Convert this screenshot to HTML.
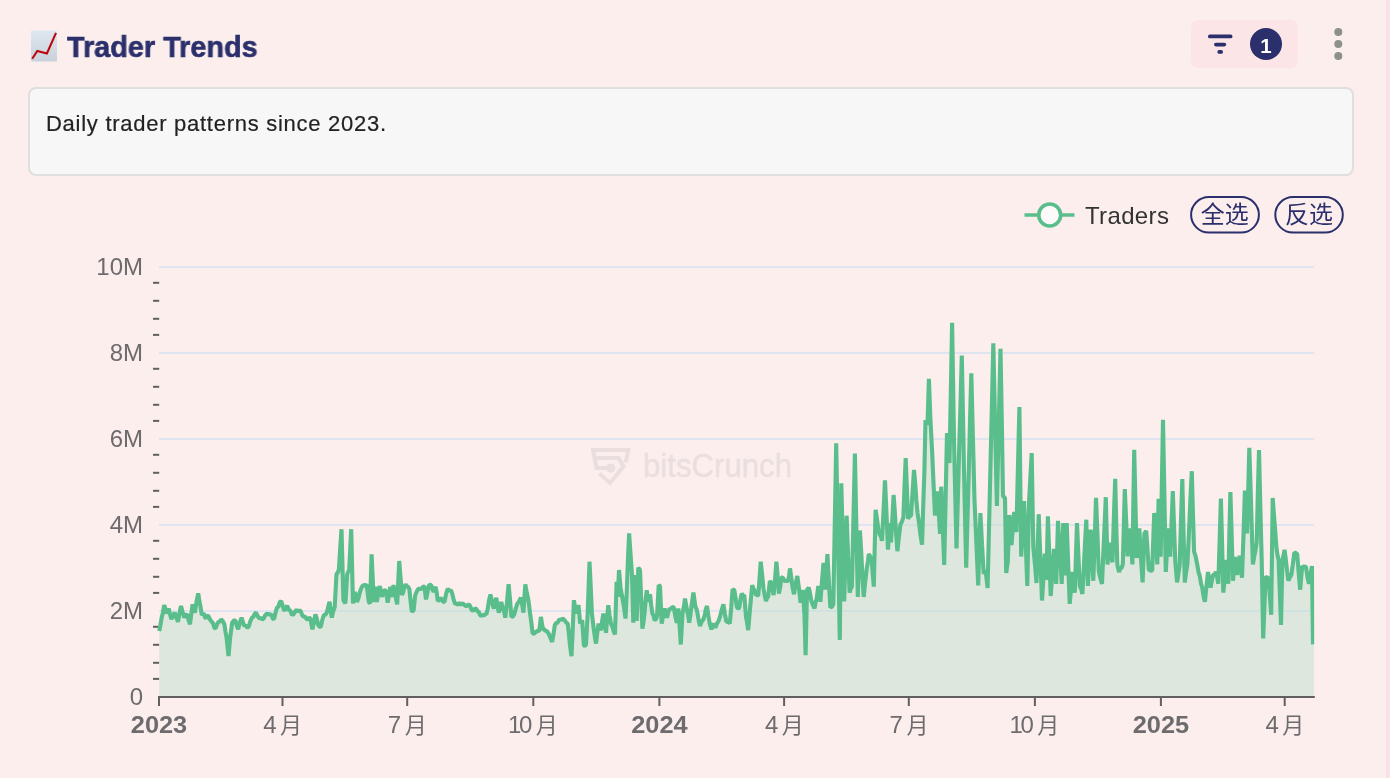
<!DOCTYPE html>
<html><head><meta charset="utf-8"><title>Trader Trends</title>
<style>
html,body{margin:0;padding:0;}
body{width:1390px;height:778px;overflow:hidden;background:#fbeeed;font-family:"Liberation Sans",sans-serif;position:relative;}
.abs{position:absolute;will-change:transform;}
#stripe{left:1385.5px;top:0;width:4.5px;height:778px;background:#f8e4e6;}
#title{left:67.3px;top:27.3px;font-size:29.5px;transform:scaleX(0.977);-webkit-text-stroke:0.6px #2b2f6b;font-weight:bold;color:#2b2f6b;line-height:40px;white-space:nowrap;transform-origin:0 50%;}
#desc{left:28px;top:86.5px;width:1322px;height:85px;border:2px solid #e1dede;border-radius:8px;background:#f7f7f7;}
#desctxt{left:46.2px;-webkit-text-stroke:0.2px #222;top:110px;font-size:22px;letter-spacing:0.73px;line-height:28px;color:#222;white-space:nowrap;transform-origin:0 50%;}
#fbtn{left:1191px;top:20px;width:107px;height:48px;border-radius:7px;background:#fbe5e6;}
#badge{left:1250px;top:28px;width:32px;height:32px;border-radius:50%;background:#2b2f6b;color:#fff;font-size:20.5px;font-weight:normal;-webkit-text-stroke:0.7px #fff;text-align:center;line-height:33px;}
svg text{font-family:"Liberation Sans","Noto Sans CJK SC",sans-serif;}
</style></head><body>
<div id="stripe" class="abs"></div>
<svg class="abs" style="left:0;top:0" width="1390" height="778" viewBox="0 0 1390 778">
<!-- emoji chart icon -->
<g id="emoji">
<defs><linearGradient id="eg" x1="0" y1="0" x2="0" y2="1"><stop offset="0" stop-color="#dfe8f0"/><stop offset="1" stop-color="#c9d2db"/></linearGradient></defs>
<rect x="31" y="30.4" width="26" height="31" rx="1" fill="url(#eg)"/>
<path d="M32.2,58.7 L37.3,50.9 L46.9,53.4 L56,32.9" fill="none" stroke="#bd080e" stroke-width="2.1" stroke-linejoin="miter"/>
</g>
<g fill="#8e908c"><circle cx="1338.3" cy="32" r="4"/><circle cx="1338.3" cy="44" r="4"/><circle cx="1338.3" cy="56" r="4"/></g>
</svg>
<div id="fbtn" class="abs"></div>
<svg class="abs" style="left:0;top:0" width="1390" height="778" viewBox="0 0 1390 778">
<g fill="#2b2f6b">
<rect x="1208" y="34.5" width="24.5" height="3.8" rx="1.9"/>
<rect x="1214" y="42.8" width="12.2" height="3.6" rx="1.8"/>
<rect x="1217.4" y="50.1" width="5.6" height="3.7" rx="1.85"/>
</g>
</svg>
<div id="badge" class="abs"></div>
<svg class="abs" style="left:0;top:0" width="1390" height="778" viewBox="0 0 1390 778"><text x="1266" y="52.7" text-anchor="middle" font-size="20.5" font-weight="bold" fill="#fff">1</text></svg>
<div id="title" class="abs">Trader Trends</div>
<div id="desc" class="abs"></div>
<div id="desctxt" class="abs">Daily trader patterns since 2023.</div>
<svg class="abs" style="left:0;top:0" width="1390" height="778" viewBox="0 0 1390 778">
<line x1="159" x2="1314" y1="611.0" y2="611.0" stroke="#dfe5f0" stroke-width="2"/>
<line x1="159" x2="1314" y1="525.0" y2="525.0" stroke="#dfe5f0" stroke-width="2"/>
<line x1="159" x2="1314" y1="439.0" y2="439.0" stroke="#dfe5f0" stroke-width="2"/>
<line x1="159" x2="1314" y1="353.0" y2="353.0" stroke="#dfe5f0" stroke-width="2"/>
<line x1="159" x2="1314" y1="267.0" y2="267.0" stroke="#dfe5f0" stroke-width="2"/>
<line x1="153" x2="159.2" y1="282.8" y2="282.8" stroke="#625f61" stroke-width="2"/>
<line x1="153" x2="159.2" y1="300.8" y2="300.8" stroke="#625f61" stroke-width="2"/>
<line x1="153" x2="159.2" y1="318.8" y2="318.8" stroke="#625f61" stroke-width="2"/>
<line x1="153" x2="159.2" y1="334.9" y2="334.9" stroke="#625f61" stroke-width="2"/>
<line x1="153" x2="159.2" y1="368.8" y2="368.8" stroke="#625f61" stroke-width="2"/>
<line x1="153" x2="159.2" y1="386.8" y2="386.8" stroke="#625f61" stroke-width="2"/>
<line x1="153" x2="159.2" y1="404.8" y2="404.8" stroke="#625f61" stroke-width="2"/>
<line x1="153" x2="159.2" y1="420.9" y2="420.9" stroke="#625f61" stroke-width="2"/>
<line x1="153" x2="159.2" y1="454.8" y2="454.8" stroke="#625f61" stroke-width="2"/>
<line x1="153" x2="159.2" y1="472.8" y2="472.8" stroke="#625f61" stroke-width="2"/>
<line x1="153" x2="159.2" y1="490.8" y2="490.8" stroke="#625f61" stroke-width="2"/>
<line x1="153" x2="159.2" y1="506.9" y2="506.9" stroke="#625f61" stroke-width="2"/>
<line x1="153" x2="159.2" y1="540.8" y2="540.8" stroke="#625f61" stroke-width="2"/>
<line x1="153" x2="159.2" y1="558.8" y2="558.8" stroke="#625f61" stroke-width="2"/>
<line x1="153" x2="159.2" y1="576.8" y2="576.8" stroke="#625f61" stroke-width="2"/>
<line x1="153" x2="159.2" y1="592.9" y2="592.9" stroke="#625f61" stroke-width="2"/>
<line x1="153" x2="159.2" y1="626.8" y2="626.8" stroke="#625f61" stroke-width="2"/>
<line x1="153" x2="159.2" y1="644.8" y2="644.8" stroke="#625f61" stroke-width="2"/>
<line x1="153" x2="159.2" y1="662.8" y2="662.8" stroke="#625f61" stroke-width="2"/>
<line x1="153" x2="159.2" y1="678.9" y2="678.9" stroke="#625f61" stroke-width="2"/>
<defs><clipPath id="pc"><rect x="157" y="250" width="1157.2" height="450"/></clipPath></defs>
<path d="M159.2,631.0 L160.4,625.3 L161.7,617.4 L162.9,612.7 L164.2,605.1 L165.4,608.7 L166.7,613.4 L168.7,608.4 L170.1,614.8 L171.4,619.3 L173.1,615.1 L174.7,612.6 L176.3,617.8 L178.0,621.8 L179.5,612.9 L181.0,606.0 L182.7,612.3 L184.3,617.6 L185.7,615.1 L187.0,614.3 L188.5,619.9 L190.0,624.3 L191.3,613.7 L192.6,604.3 L193.7,609.3 L194.8,612.6 L196.5,601.8 L198.2,593.4 L199.4,601.2 L200.6,607.1 L201.8,615.0 L203.8,613.4 L204.9,617.0 L206.0,618.5 L207.2,615.9 L208.5,616.0 L210.2,619.9 L211.8,621.8 L213.0,623.2 L214.3,627.6 L215.5,628.5 L217.0,624.6 L218.5,621.8 L219.8,621.8 L221.0,619.3 L222.7,621.0 L224.4,624.3 L225.4,631.3 L226.5,637.0 L228.5,656.0 L230.2,637.0 L232.2,622.6 L233.7,620.7 L235.2,620.0 L236.7,625.4 L238.2,629.3 L239.9,622.2 L241.6,617.6 L243.0,622.5 L244.4,626.0 L245.8,625.2 L247.2,627.6 L248.6,626.8 L250.3,621.4 L252.0,617.6 L253.3,616.9 L254.7,613.7 L256.0,612.6 L257.7,616.1 L259.4,618.5 L260.8,617.8 L262.2,619.6 L263.6,618.5 L265.3,615.1 L267.0,613.4 L268.6,614.6 L270.3,614.3 L271.5,614.9 L272.8,618.5 L274.0,619.3 L275.5,612.7 L277.0,607.6 L278.4,606.6 L279.8,602.1 L281.2,601.0 L282.9,606.7 L284.5,611.0 L285.9,607.5 L287.3,606.0 L288.9,610.0 L290.4,610.7 L292.0,615.0 L293.7,614.1 L295.4,611.0 L296.8,609.9 L298.1,611.7 L299.5,610.0 L300.9,611.6 L302.3,615.4 L303.7,616.8 L305.1,616.5 L306.5,619.1 L307.9,619.3 L309.1,618.0 L310.4,618.5 L312.4,629.3 L313.9,622.4 L315.4,614.3 L316.7,618.2 L318.0,624.3 L319.4,626.7 L320.8,626.8 L322.3,619.9 L323.8,615.1 L325.5,614.7 L327.1,611.8 L328.4,606.0 L329.6,601.7 L330.7,610.8 L331.8,617.6 L333.2,611.3 L334.7,607.0 L336.5,574.0 L337.7,572.8 L338.9,569.5 L340.2,548.4 L341.5,529.2 L343.4,600.0 L345.4,603.5 L347.2,574.0 L349.2,569.5 L351.2,529.2 L353.0,603.5 L355.0,591.8 L357.0,601.9 L358.5,598.1 L360.0,591.8 L361.7,587.1 L363.4,585.0 L364.9,585.6 L366.4,584.3 L367.6,592.0 L368.8,601.9 L370.1,603.5 L371.6,554.3 L372.7,578.7 L373.8,601.9 L375.5,586.8 L376.8,601.9 L378.4,592.8 L379.9,586.0 L381.0,592.5 L382.2,596.9 L383.2,592.1 L384.3,590.0 L386.0,591.0 L387.7,602.7 L388.9,596.0 L390.2,586.8 L391.8,596.9 L393.5,585.0 L395.5,596.0 L397.2,604.4 L399.2,561.0 L400.5,577.2 L401.9,595.0 L403.1,592.3 L404.4,586.8 L405.6,584.3 L406.9,586.5 L408.1,586.7 L409.4,589.3 L410.6,601.3 L411.9,611.9 L413.6,610.2 L415.2,595.2 L416.9,591.2 L418.6,588.5 L420.2,589.1 L421.9,588.5 L423.1,586.5 L424.4,586.8 L426.0,599.4 L427.3,593.3 L428.6,586.0 L429.9,584.8 L431.1,585.0 L432.4,589.3 L433.6,591.8 L435.6,586.8 L436.7,592.6 L437.8,601.0 L439.1,600.3 L440.3,598.5 L441.7,598.7 L443.1,601.8 L444.5,601.9 L446.1,593.9 L447.8,588.5 L449.2,591.1 L450.6,590.0 L452.0,592.7 L453.6,599.3 L455.3,604.4 L456.6,603.3 L458.0,604.9 L459.3,602.6 L460.7,605.0 L462.0,603.5 L463.7,604.1 L465.4,606.0 L467.0,605.9 L468.7,604.4 L470.1,605.9 L471.5,609.5 L472.9,611.0 L474.5,608.9 L476.2,608.6 L477.4,611.5 L478.7,611.6 L479.9,614.7 L481.2,616.0 L482.5,614.7 L483.8,616.0 L485.0,613.8 L486.3,614.4 L487.7,609.1 L489.1,600.0 L490.5,594.4 L492.1,602.5 L493.8,608.6 L495.1,602.1 L496.3,597.7 L497.6,606.3 L498.8,612.7 L500.1,606.7 L501.3,601.9 L502.6,608.5 L504.0,611.2 L505.3,617.7 L507.0,602.3 L508.6,584.3 L510.0,599.4 L511.4,616.9 L512.8,616.5 L514.2,614.4 L515.9,608.1 L517.5,603.5 L519.2,601.2 L520.9,597.7 L522.1,604.1 L523.4,612.7 L525.3,584.3 L526.8,592.8 L528.4,600.2 L530.1,613.5 L531.4,623.0 L532.6,633.6 L534.2,633.4 L535.9,631.9 L537.6,630.8 L539.3,631.0 L540.9,616.9 L542.0,624.0 L543.1,629.4 L544.3,629.4 L545.6,631.0 L546.8,631.0 L548.5,633.4 L550.1,637.0 L552.1,641.9 L553.5,634.2 L554.8,625.2 L556.0,623.0 L557.3,622.9 L558.5,621.0 L559.7,618.9 L561.0,620.4 L562.2,618.6 L563.7,619.2 L565.2,621.0 L566.5,623.0 L567.7,623.6 L568.8,632.8 L569.8,643.6 L571.5,656.1 L572.7,630.0 L573.9,600.2 L575.0,607.7 L576.0,613.5 L577.2,608.7 L578.5,605.2 L580.2,623.6 L582.2,620.2 L583.9,645.3 L585.0,646.1 L586.0,644.5 L587.7,613.5 L589.5,561.7 L590.7,586.2 L591.9,613.5 L593.9,630.2 L595.0,637.8 L596.0,643.6 L597.3,632.7 L598.6,623.6 L599.8,627.5 L601.0,630.2 L602.1,621.2 L603.3,613.5 L604.6,624.0 L606.0,632.8 L607.1,618.3 L608.3,605.2 L609.6,615.6 L611.0,623.6 L612.3,626.5 L613.7,631.3 L615.0,634.4 L616.6,581.8 L617.8,596.8 L619.0,570.0 L620.6,588.5 L622.5,598.5 L624.0,607.2 L625.5,618.6 L626.8,591.1 L627.9,561.1 L629.1,533.3 L630.6,555.1 L632.0,575.0 L633.3,622.7 L635.3,575.0 L636.7,621.0 L638.3,567.6 L640.0,570.0 L641.2,598.8 L642.4,628.6 L643.5,622.0 L644.5,613.5 L645.6,600.5 L646.7,590.2 L648.4,601.8 L650.0,594.3 L651.2,605.2 L652.4,613.5 L653.5,615.7 L654.6,620.2 L655.8,619.3 L657.0,616.9 L658.7,585.1 L660.0,586.0 L661.7,623.6 L663.2,615.2 L664.6,608.5 L665.8,613.8 L667.0,617.7 L668.3,611.9 L669.6,608.5 L671.0,609.2 L672.4,606.8 L673.8,607.7 L675.3,616.0 L676.8,622.7 L678.4,608.5 L679.6,625.8 L680.8,644.5 L682.5,613.5 L683.8,607.2 L685.0,598.5 L687.0,610.2 L688.1,615.1 L689.2,622.7 L690.3,616.0 L691.4,606.8 L693.4,592.6 L695.4,606.8 L696.5,608.9 L697.5,613.5 L698.8,621.0 L700.0,626.0 L701.7,621.5 L703.4,619.4 L704.6,615.6 L705.8,609.5 L707.0,606.0 L708.4,615.6 L709.7,623.5 L711.4,629.4 L713.4,623.5 L715.4,627.7 L716.9,623.6 L718.5,621.0 L720.0,616.9 L721.7,609.8 L723.4,604.3 L724.9,613.8 L726.4,621.9 L728.1,621.6 L729.8,623.5 L731.2,607.7 L732.6,589.3 L734.3,590.1 L735.5,597.5 L736.8,606.8 L738.0,608.6 L739.3,607.7 L740.5,599.2 L741.8,593.5 L743.0,595.6 L744.3,595.1 L746.0,616.9 L747.1,622.7 L748.2,630.2 L750.2,606.8 L752.2,585.1 L753.3,588.3 L754.4,590.1 L756.0,595.1 L757.1,594.8 L758.2,596.0 L759.5,579.5 L760.7,561.7 L762.1,574.4 L763.5,588.5 L764.8,595.8 L766.0,601.0 L767.1,597.6 L768.2,596.8 L769.9,581.0 L771.6,583.4 L773.6,595.1 L775.0,579.6 L776.4,561.7 L777.7,576.7 L778.9,593.5 L780.2,586.6 L781.5,577.6 L782.8,577.5 L784.0,580.5 L785.3,581.0 L786.8,580.3 L788.3,581.8 L790.0,568.4 L791.6,580.1 L792.8,588.5 L794.0,594.3 L795.6,584.0 L797.3,576.0 L799.0,588.5 L800.6,602.7 L801.7,597.5 L802.8,590.0 L804.5,615.2 L805.6,655.3 L807.0,590.0 L808.7,587.6 L810.0,593.0 L811.2,600.2 L812.9,605.0 L814.5,608.5 L815.6,602.3 L816.7,598.5 L818.3,586.0 L819.3,594.7 L820.4,601.8 L822.0,581.2 L823.5,563.0 L825.3,589.6 L826.3,573.2 L827.4,554.0 L828.8,579.8 L830.3,607.4 L831.8,606.8 L833.3,604.4 L834.8,522.5 L836.2,443.3 L837.4,510.0 L838.6,573.7 L839.8,639.9 L841.3,483.2 L842.8,542.9 L844.2,601.4 L845.4,557.9 L846.6,515.7 L848.1,555.4 L849.6,592.6 L850.8,588.4 L851.9,586.7 L853.4,520.8 L854.9,453.6 L856.3,524.1 L857.8,597.0 L858.8,565.1 L859.9,530.5 L861.2,551.6 L862.4,575.7 L863.7,597.0 L865.2,582.0 L866.7,569.0 L867.8,562.1 L868.8,554.0 L870.2,556.5 L871.7,560.0 L872.8,574.7 L873.8,586.7 L875.6,509.8 L877.0,519.1 L878.5,530.5 L879.7,534.9 L880.8,536.0 L882.0,540.8 L883.5,511.4 L885.0,480.3 L886.5,513.7 L888.0,549.7 L889.6,523.0 L891.0,542.5 L892.3,520.0 L893.6,495.0 L894.9,513.0 L896.1,533.2 L897.4,551.2 L898.9,537.1 L900.4,524.6 L901.9,521.6 L903.4,517.2 L904.5,486.6 L905.7,458.0 L906.9,489.1 L908.0,518.7 L909.5,516.3 L911.0,515.7 L912.5,493.5 L914.0,470.0 L915.2,483.0 L916.3,499.4 L917.5,512.8 L919.0,522.5 L920.5,535.0 L922.0,544.6 L923.2,506.5 L924.4,471.0 L925.5,420.0 L927.5,425.0 L928.9,378.9 L930.4,419.0 L932.2,453.0 L933.6,485.2 L935.0,515.6 L936.4,502.1 L937.8,491.3 L938.9,513.6 L940.0,534.0 L941.2,486.7 L942.7,524.9 L944.2,565.0 L945.6,500.0 L947.0,433.0 L948.2,447.5 L949.5,463.0 L950.8,393.7 L952.1,322.7 L954.0,440.0 L955.2,493.6 L956.5,548.5 L957.8,500.8 L959.1,450.8 L960.5,404.5 L961.8,355.6 L962.9,411.9 L964.0,470.0 L965.1,519.9 L966.2,567.6 L967.5,518.0 L968.8,471.2 L970.0,420.9 L971.3,373.3 L972.9,437.6 L974.5,500.0 L975.7,527.3 L977.0,557.6 L978.2,585.5 L979.3,548.2 L980.4,513.0 L982.0,544.2 L983.7,574.0 L985.5,570.0 L986.5,578.2 L987.6,588.0 L989.0,528.0 L990.5,464.7 L991.9,405.5 L993.3,343.3 L994.5,396.4 L995.7,453.1 L996.9,506.0 L998.1,452.7 L999.3,402.2 L1000.5,348.7 L1001.8,421.4 L1003.0,496.0 L1005.0,498.0 L1006.2,573.0 L1007.8,562.0 L1009.4,515.0 L1010.5,531.0 L1011.5,545.0 L1012.9,527.4 L1014.2,512.0 L1015.3,522.9 L1016.4,532.0 L1017.9,468.5 L1019.4,407.0 L1021.2,556.6 L1022.6,529.7 L1024.0,501.0 L1025.7,542.2 L1027.3,586.0 L1029.0,502.0 L1030.3,478.6 L1031.7,453.0 L1033.3,547.0 L1034.9,563.7 L1036.5,583.0 L1037.6,549.9 L1038.7,514.2 L1040.3,556.6 L1042.0,600.5 L1043.4,578.0 L1044.8,553.5 L1046.4,580.0 L1047.9,516.4 L1049.3,554.9 L1050.7,596.0 L1052.3,573.7 L1054.0,549.0 L1055.1,565.9 L1056.2,584.0 L1058.0,520.8 L1059.2,542.5 L1060.5,562.0 L1061.7,584.0 L1063.2,523.0 L1064.9,575.4 L1066.7,523.0 L1068.2,564.0 L1069.7,603.8 L1071.2,587.2 L1072.6,572.0 L1073.7,583.0 L1074.8,592.8 L1075.9,556.8 L1077.0,523.0 L1078.4,555.7 L1079.8,586.0 L1081.1,588.7 L1082.4,594.0 L1083.7,569.9 L1085.0,543.3 L1086.3,519.7 L1087.9,586.0 L1089.3,558.8 L1090.7,529.5 L1092.0,554.5 L1093.3,580.8 L1094.7,540.6 L1096.0,497.9 L1097.4,533.1 L1098.8,571.0 L1100.4,578.2 L1102.0,584.0 L1103.3,553.7 L1104.5,527.0 L1105.8,497.2 L1107.5,564.5 L1108.6,552.6 L1109.7,542.6 L1111.1,553.8 L1112.5,562.3 L1113.8,519.4 L1115.2,478.9 L1116.2,522.4 L1117.3,564.5 L1119.0,572.0 L1120.3,568.6 L1121.5,568.0 L1122.8,564.5 L1124.8,489.0 L1126.2,521.8 L1127.5,556.3 L1128.8,543.1 L1130.2,528.5 L1131.3,545.7 L1132.4,564.4 L1134.2,449.9 L1135.5,505.1 L1136.7,558.0 L1138.0,542.7 L1139.3,528.4 L1140.9,556.4 L1142.6,582.4 L1144.4,533.5 L1146.2,531.0 L1147.5,549.4 L1148.8,569.5 L1150.5,570.7 L1152.2,570.8 L1154.2,513.0 L1155.8,537.9 L1157.3,564.4 L1158.6,498.8 L1159.7,528.8 L1160.7,556.7 L1161.8,487.3 L1163.0,419.8 L1164.4,496.5 L1165.8,572.0 L1167.1,548.8 L1168.4,528.4 L1170.2,556.7 L1171.5,525.0 L1172.8,491.0 L1174.0,525.0 L1175.3,561.8 L1177.1,582.4 L1178.4,574.0 L1179.7,564.4 L1181.0,521.0 L1182.3,479.0 L1183.5,531.3 L1184.8,582.4 L1186.1,572.2 L1187.4,564.4 L1188.9,534.1 L1190.3,501.6 L1191.8,471.2 L1192.9,512.2 L1194.1,551.5 L1195.7,556.6 L1197.2,564.4 L1198.5,571.8 L1199.8,576.1 L1201.1,583.7 L1202.3,588.0 L1203.6,596.5 L1204.9,601.7 L1206.5,585.7 L1208.0,572.0 L1209.3,580.4 L1210.6,587.6 L1211.8,580.7 L1213.0,575.0 L1214.5,574.6 L1215.9,572.0 L1217.1,577.0 L1218.3,583.8 L1219.6,541.8 L1220.9,498.6 L1222.1,544.3 L1223.3,592.6 L1224.8,577.4 L1226.3,560.0 L1228.3,583.8 L1229.3,536.7 L1230.4,492.0 L1231.7,537.0 L1233.0,580.8 L1235.0,557.0 L1236.1,564.7 L1237.2,575.0 L1238.4,565.9 L1239.6,555.7 L1240.8,565.5 L1242.0,577.8 L1243.5,535.1 L1244.9,490.6 L1246.0,511.2 L1247.0,533.5 L1248.2,491.6 L1249.3,447.7 L1250.5,485.3 L1251.7,526.3 L1252.9,564.5 L1254.2,556.5 L1255.4,550.7 L1256.7,542.4 L1257.8,495.5 L1259.0,450.0 L1260.3,505.6 L1261.7,560.0 L1263.2,638.5 L1264.4,606.8 L1265.6,576.4 L1267.0,577.7 L1268.5,577.8 L1269.8,595.6 L1271.2,614.8 L1272.7,498.0 L1274.0,515.6 L1275.2,530.8 L1276.5,548.3 L1277.5,555.3 L1278.6,560.0 L1279.8,591.7 L1281.0,625.0 L1282.4,560.0 L1283.5,555.8 L1284.5,549.8 L1285.8,559.5 L1287.1,571.3 L1288.4,580.8 L1289.8,577.4 L1291.3,575.0 L1292.8,564.6 L1294.3,552.7 L1295.8,552.9 L1297.2,554.2 L1298.7,573.1 L1300.2,589.7 L1301.2,576.9 L1302.3,566.0 L1303.6,567.2 L1304.8,566.1 L1306.1,567.5 L1307.5,577.0 L1309.0,583.8 L1310.5,574.3 L1312.0,566.0 L1313.0,644.4 L1314.2,644.4 L1314.2,697.0 L159.2,697.0 Z" fill="rgb(193,224,205)" fill-opacity="0.5" clip-path="url(#pc)"/>
<path d="M159.2,631.0 L160.4,625.3 L161.7,617.4 L162.9,612.7 L164.2,605.1 L165.4,608.7 L166.7,613.4 L168.7,608.4 L170.1,614.8 L171.4,619.3 L173.1,615.1 L174.7,612.6 L176.3,617.8 L178.0,621.8 L179.5,612.9 L181.0,606.0 L182.7,612.3 L184.3,617.6 L185.7,615.1 L187.0,614.3 L188.5,619.9 L190.0,624.3 L191.3,613.7 L192.6,604.3 L193.7,609.3 L194.8,612.6 L196.5,601.8 L198.2,593.4 L199.4,601.2 L200.6,607.1 L201.8,615.0 L203.8,613.4 L204.9,617.0 L206.0,618.5 L207.2,615.9 L208.5,616.0 L210.2,619.9 L211.8,621.8 L213.0,623.2 L214.3,627.6 L215.5,628.5 L217.0,624.6 L218.5,621.8 L219.8,621.8 L221.0,619.3 L222.7,621.0 L224.4,624.3 L225.4,631.3 L226.5,637.0 L228.5,656.0 L230.2,637.0 L232.2,622.6 L233.7,620.7 L235.2,620.0 L236.7,625.4 L238.2,629.3 L239.9,622.2 L241.6,617.6 L243.0,622.5 L244.4,626.0 L245.8,625.2 L247.2,627.6 L248.6,626.8 L250.3,621.4 L252.0,617.6 L253.3,616.9 L254.7,613.7 L256.0,612.6 L257.7,616.1 L259.4,618.5 L260.8,617.8 L262.2,619.6 L263.6,618.5 L265.3,615.1 L267.0,613.4 L268.6,614.6 L270.3,614.3 L271.5,614.9 L272.8,618.5 L274.0,619.3 L275.5,612.7 L277.0,607.6 L278.4,606.6 L279.8,602.1 L281.2,601.0 L282.9,606.7 L284.5,611.0 L285.9,607.5 L287.3,606.0 L288.9,610.0 L290.4,610.7 L292.0,615.0 L293.7,614.1 L295.4,611.0 L296.8,609.9 L298.1,611.7 L299.5,610.0 L300.9,611.6 L302.3,615.4 L303.7,616.8 L305.1,616.5 L306.5,619.1 L307.9,619.3 L309.1,618.0 L310.4,618.5 L312.4,629.3 L313.9,622.4 L315.4,614.3 L316.7,618.2 L318.0,624.3 L319.4,626.7 L320.8,626.8 L322.3,619.9 L323.8,615.1 L325.5,614.7 L327.1,611.8 L328.4,606.0 L329.6,601.7 L330.7,610.8 L331.8,617.6 L333.2,611.3 L334.7,607.0 L336.5,574.0 L337.7,572.8 L338.9,569.5 L340.2,548.4 L341.5,529.2 L343.4,600.0 L345.4,603.5 L347.2,574.0 L349.2,569.5 L351.2,529.2 L353.0,603.5 L355.0,591.8 L357.0,601.9 L358.5,598.1 L360.0,591.8 L361.7,587.1 L363.4,585.0 L364.9,585.6 L366.4,584.3 L367.6,592.0 L368.8,601.9 L370.1,603.5 L371.6,554.3 L372.7,578.7 L373.8,601.9 L375.5,586.8 L376.8,601.9 L378.4,592.8 L379.9,586.0 L381.0,592.5 L382.2,596.9 L383.2,592.1 L384.3,590.0 L386.0,591.0 L387.7,602.7 L388.9,596.0 L390.2,586.8 L391.8,596.9 L393.5,585.0 L395.5,596.0 L397.2,604.4 L399.2,561.0 L400.5,577.2 L401.9,595.0 L403.1,592.3 L404.4,586.8 L405.6,584.3 L406.9,586.5 L408.1,586.7 L409.4,589.3 L410.6,601.3 L411.9,611.9 L413.6,610.2 L415.2,595.2 L416.9,591.2 L418.6,588.5 L420.2,589.1 L421.9,588.5 L423.1,586.5 L424.4,586.8 L426.0,599.4 L427.3,593.3 L428.6,586.0 L429.9,584.8 L431.1,585.0 L432.4,589.3 L433.6,591.8 L435.6,586.8 L436.7,592.6 L437.8,601.0 L439.1,600.3 L440.3,598.5 L441.7,598.7 L443.1,601.8 L444.5,601.9 L446.1,593.9 L447.8,588.5 L449.2,591.1 L450.6,590.0 L452.0,592.7 L453.6,599.3 L455.3,604.4 L456.6,603.3 L458.0,604.9 L459.3,602.6 L460.7,605.0 L462.0,603.5 L463.7,604.1 L465.4,606.0 L467.0,605.9 L468.7,604.4 L470.1,605.9 L471.5,609.5 L472.9,611.0 L474.5,608.9 L476.2,608.6 L477.4,611.5 L478.7,611.6 L479.9,614.7 L481.2,616.0 L482.5,614.7 L483.8,616.0 L485.0,613.8 L486.3,614.4 L487.7,609.1 L489.1,600.0 L490.5,594.4 L492.1,602.5 L493.8,608.6 L495.1,602.1 L496.3,597.7 L497.6,606.3 L498.8,612.7 L500.1,606.7 L501.3,601.9 L502.6,608.5 L504.0,611.2 L505.3,617.7 L507.0,602.3 L508.6,584.3 L510.0,599.4 L511.4,616.9 L512.8,616.5 L514.2,614.4 L515.9,608.1 L517.5,603.5 L519.2,601.2 L520.9,597.7 L522.1,604.1 L523.4,612.7 L525.3,584.3 L526.8,592.8 L528.4,600.2 L530.1,613.5 L531.4,623.0 L532.6,633.6 L534.2,633.4 L535.9,631.9 L537.6,630.8 L539.3,631.0 L540.9,616.9 L542.0,624.0 L543.1,629.4 L544.3,629.4 L545.6,631.0 L546.8,631.0 L548.5,633.4 L550.1,637.0 L552.1,641.9 L553.5,634.2 L554.8,625.2 L556.0,623.0 L557.3,622.9 L558.5,621.0 L559.7,618.9 L561.0,620.4 L562.2,618.6 L563.7,619.2 L565.2,621.0 L566.5,623.0 L567.7,623.6 L568.8,632.8 L569.8,643.6 L571.5,656.1 L572.7,630.0 L573.9,600.2 L575.0,607.7 L576.0,613.5 L577.2,608.7 L578.5,605.2 L580.2,623.6 L582.2,620.2 L583.9,645.3 L585.0,646.1 L586.0,644.5 L587.7,613.5 L589.5,561.7 L590.7,586.2 L591.9,613.5 L593.9,630.2 L595.0,637.8 L596.0,643.6 L597.3,632.7 L598.6,623.6 L599.8,627.5 L601.0,630.2 L602.1,621.2 L603.3,613.5 L604.6,624.0 L606.0,632.8 L607.1,618.3 L608.3,605.2 L609.6,615.6 L611.0,623.6 L612.3,626.5 L613.7,631.3 L615.0,634.4 L616.6,581.8 L617.8,596.8 L619.0,570.0 L620.6,588.5 L622.5,598.5 L624.0,607.2 L625.5,618.6 L626.8,591.1 L627.9,561.1 L629.1,533.3 L630.6,555.1 L632.0,575.0 L633.3,622.7 L635.3,575.0 L636.7,621.0 L638.3,567.6 L640.0,570.0 L641.2,598.8 L642.4,628.6 L643.5,622.0 L644.5,613.5 L645.6,600.5 L646.7,590.2 L648.4,601.8 L650.0,594.3 L651.2,605.2 L652.4,613.5 L653.5,615.7 L654.6,620.2 L655.8,619.3 L657.0,616.9 L658.7,585.1 L660.0,586.0 L661.7,623.6 L663.2,615.2 L664.6,608.5 L665.8,613.8 L667.0,617.7 L668.3,611.9 L669.6,608.5 L671.0,609.2 L672.4,606.8 L673.8,607.7 L675.3,616.0 L676.8,622.7 L678.4,608.5 L679.6,625.8 L680.8,644.5 L682.5,613.5 L683.8,607.2 L685.0,598.5 L687.0,610.2 L688.1,615.1 L689.2,622.7 L690.3,616.0 L691.4,606.8 L693.4,592.6 L695.4,606.8 L696.5,608.9 L697.5,613.5 L698.8,621.0 L700.0,626.0 L701.7,621.5 L703.4,619.4 L704.6,615.6 L705.8,609.5 L707.0,606.0 L708.4,615.6 L709.7,623.5 L711.4,629.4 L713.4,623.5 L715.4,627.7 L716.9,623.6 L718.5,621.0 L720.0,616.9 L721.7,609.8 L723.4,604.3 L724.9,613.8 L726.4,621.9 L728.1,621.6 L729.8,623.5 L731.2,607.7 L732.6,589.3 L734.3,590.1 L735.5,597.5 L736.8,606.8 L738.0,608.6 L739.3,607.7 L740.5,599.2 L741.8,593.5 L743.0,595.6 L744.3,595.1 L746.0,616.9 L747.1,622.7 L748.2,630.2 L750.2,606.8 L752.2,585.1 L753.3,588.3 L754.4,590.1 L756.0,595.1 L757.1,594.8 L758.2,596.0 L759.5,579.5 L760.7,561.7 L762.1,574.4 L763.5,588.5 L764.8,595.8 L766.0,601.0 L767.1,597.6 L768.2,596.8 L769.9,581.0 L771.6,583.4 L773.6,595.1 L775.0,579.6 L776.4,561.7 L777.7,576.7 L778.9,593.5 L780.2,586.6 L781.5,577.6 L782.8,577.5 L784.0,580.5 L785.3,581.0 L786.8,580.3 L788.3,581.8 L790.0,568.4 L791.6,580.1 L792.8,588.5 L794.0,594.3 L795.6,584.0 L797.3,576.0 L799.0,588.5 L800.6,602.7 L801.7,597.5 L802.8,590.0 L804.5,615.2 L805.6,655.3 L807.0,590.0 L808.7,587.6 L810.0,593.0 L811.2,600.2 L812.9,605.0 L814.5,608.5 L815.6,602.3 L816.7,598.5 L818.3,586.0 L819.3,594.7 L820.4,601.8 L822.0,581.2 L823.5,563.0 L825.3,589.6 L826.3,573.2 L827.4,554.0 L828.8,579.8 L830.3,607.4 L831.8,606.8 L833.3,604.4 L834.8,522.5 L836.2,443.3 L837.4,510.0 L838.6,573.7 L839.8,639.9 L841.3,483.2 L842.8,542.9 L844.2,601.4 L845.4,557.9 L846.6,515.7 L848.1,555.4 L849.6,592.6 L850.8,588.4 L851.9,586.7 L853.4,520.8 L854.9,453.6 L856.3,524.1 L857.8,597.0 L858.8,565.1 L859.9,530.5 L861.2,551.6 L862.4,575.7 L863.7,597.0 L865.2,582.0 L866.7,569.0 L867.8,562.1 L868.8,554.0 L870.2,556.5 L871.7,560.0 L872.8,574.7 L873.8,586.7 L875.6,509.8 L877.0,519.1 L878.5,530.5 L879.7,534.9 L880.8,536.0 L882.0,540.8 L883.5,511.4 L885.0,480.3 L886.5,513.7 L888.0,549.7 L889.6,523.0 L891.0,542.5 L892.3,520.0 L893.6,495.0 L894.9,513.0 L896.1,533.2 L897.4,551.2 L898.9,537.1 L900.4,524.6 L901.9,521.6 L903.4,517.2 L904.5,486.6 L905.7,458.0 L906.9,489.1 L908.0,518.7 L909.5,516.3 L911.0,515.7 L912.5,493.5 L914.0,470.0 L915.2,483.0 L916.3,499.4 L917.5,512.8 L919.0,522.5 L920.5,535.0 L922.0,544.6 L923.2,506.5 L924.4,471.0 L925.5,420.0 L927.5,425.0 L928.9,378.9 L930.4,419.0 L932.2,453.0 L933.6,485.2 L935.0,515.6 L936.4,502.1 L937.8,491.3 L938.9,513.6 L940.0,534.0 L941.2,486.7 L942.7,524.9 L944.2,565.0 L945.6,500.0 L947.0,433.0 L948.2,447.5 L949.5,463.0 L950.8,393.7 L952.1,322.7 L954.0,440.0 L955.2,493.6 L956.5,548.5 L957.8,500.8 L959.1,450.8 L960.5,404.5 L961.8,355.6 L962.9,411.9 L964.0,470.0 L965.1,519.9 L966.2,567.6 L967.5,518.0 L968.8,471.2 L970.0,420.9 L971.3,373.3 L972.9,437.6 L974.5,500.0 L975.7,527.3 L977.0,557.6 L978.2,585.5 L979.3,548.2 L980.4,513.0 L982.0,544.2 L983.7,574.0 L985.5,570.0 L986.5,578.2 L987.6,588.0 L989.0,528.0 L990.5,464.7 L991.9,405.5 L993.3,343.3 L994.5,396.4 L995.7,453.1 L996.9,506.0 L998.1,452.7 L999.3,402.2 L1000.5,348.7 L1001.8,421.4 L1003.0,496.0 L1005.0,498.0 L1006.2,573.0 L1007.8,562.0 L1009.4,515.0 L1010.5,531.0 L1011.5,545.0 L1012.9,527.4 L1014.2,512.0 L1015.3,522.9 L1016.4,532.0 L1017.9,468.5 L1019.4,407.0 L1021.2,556.6 L1022.6,529.7 L1024.0,501.0 L1025.7,542.2 L1027.3,586.0 L1029.0,502.0 L1030.3,478.6 L1031.7,453.0 L1033.3,547.0 L1034.9,563.7 L1036.5,583.0 L1037.6,549.9 L1038.7,514.2 L1040.3,556.6 L1042.0,600.5 L1043.4,578.0 L1044.8,553.5 L1046.4,580.0 L1047.9,516.4 L1049.3,554.9 L1050.7,596.0 L1052.3,573.7 L1054.0,549.0 L1055.1,565.9 L1056.2,584.0 L1058.0,520.8 L1059.2,542.5 L1060.5,562.0 L1061.7,584.0 L1063.2,523.0 L1064.9,575.4 L1066.7,523.0 L1068.2,564.0 L1069.7,603.8 L1071.2,587.2 L1072.6,572.0 L1073.7,583.0 L1074.8,592.8 L1075.9,556.8 L1077.0,523.0 L1078.4,555.7 L1079.8,586.0 L1081.1,588.7 L1082.4,594.0 L1083.7,569.9 L1085.0,543.3 L1086.3,519.7 L1087.9,586.0 L1089.3,558.8 L1090.7,529.5 L1092.0,554.5 L1093.3,580.8 L1094.7,540.6 L1096.0,497.9 L1097.4,533.1 L1098.8,571.0 L1100.4,578.2 L1102.0,584.0 L1103.3,553.7 L1104.5,527.0 L1105.8,497.2 L1107.5,564.5 L1108.6,552.6 L1109.7,542.6 L1111.1,553.8 L1112.5,562.3 L1113.8,519.4 L1115.2,478.9 L1116.2,522.4 L1117.3,564.5 L1119.0,572.0 L1120.3,568.6 L1121.5,568.0 L1122.8,564.5 L1124.8,489.0 L1126.2,521.8 L1127.5,556.3 L1128.8,543.1 L1130.2,528.5 L1131.3,545.7 L1132.4,564.4 L1134.2,449.9 L1135.5,505.1 L1136.7,558.0 L1138.0,542.7 L1139.3,528.4 L1140.9,556.4 L1142.6,582.4 L1144.4,533.5 L1146.2,531.0 L1147.5,549.4 L1148.8,569.5 L1150.5,570.7 L1152.2,570.8 L1154.2,513.0 L1155.8,537.9 L1157.3,564.4 L1158.6,498.8 L1159.7,528.8 L1160.7,556.7 L1161.8,487.3 L1163.0,419.8 L1164.4,496.5 L1165.8,572.0 L1167.1,548.8 L1168.4,528.4 L1170.2,556.7 L1171.5,525.0 L1172.8,491.0 L1174.0,525.0 L1175.3,561.8 L1177.1,582.4 L1178.4,574.0 L1179.7,564.4 L1181.0,521.0 L1182.3,479.0 L1183.5,531.3 L1184.8,582.4 L1186.1,572.2 L1187.4,564.4 L1188.9,534.1 L1190.3,501.6 L1191.8,471.2 L1192.9,512.2 L1194.1,551.5 L1195.7,556.6 L1197.2,564.4 L1198.5,571.8 L1199.8,576.1 L1201.1,583.7 L1202.3,588.0 L1203.6,596.5 L1204.9,601.7 L1206.5,585.7 L1208.0,572.0 L1209.3,580.4 L1210.6,587.6 L1211.8,580.7 L1213.0,575.0 L1214.5,574.6 L1215.9,572.0 L1217.1,577.0 L1218.3,583.8 L1219.6,541.8 L1220.9,498.6 L1222.1,544.3 L1223.3,592.6 L1224.8,577.4 L1226.3,560.0 L1228.3,583.8 L1229.3,536.7 L1230.4,492.0 L1231.7,537.0 L1233.0,580.8 L1235.0,557.0 L1236.1,564.7 L1237.2,575.0 L1238.4,565.9 L1239.6,555.7 L1240.8,565.5 L1242.0,577.8 L1243.5,535.1 L1244.9,490.6 L1246.0,511.2 L1247.0,533.5 L1248.2,491.6 L1249.3,447.7 L1250.5,485.3 L1251.7,526.3 L1252.9,564.5 L1254.2,556.5 L1255.4,550.7 L1256.7,542.4 L1257.8,495.5 L1259.0,450.0 L1260.3,505.6 L1261.7,560.0 L1263.2,638.5 L1264.4,606.8 L1265.6,576.4 L1267.0,577.7 L1268.5,577.8 L1269.8,595.6 L1271.2,614.8 L1272.7,498.0 L1274.0,515.6 L1275.2,530.8 L1276.5,548.3 L1277.5,555.3 L1278.6,560.0 L1279.8,591.7 L1281.0,625.0 L1282.4,560.0 L1283.5,555.8 L1284.5,549.8 L1285.8,559.5 L1287.1,571.3 L1288.4,580.8 L1289.8,577.4 L1291.3,575.0 L1292.8,564.6 L1294.3,552.7 L1295.8,552.9 L1297.2,554.2 L1298.7,573.1 L1300.2,589.7 L1301.2,576.9 L1302.3,566.0 L1303.6,567.2 L1304.8,566.1 L1306.1,567.5 L1307.5,577.0 L1309.0,583.8 L1310.5,574.3 L1312.0,566.0 L1313.0,644.4" fill="none" stroke="#59be8b" stroke-width="4.1" stroke-linejoin="bevel" clip-path="url(#pc)"/>
<line x1="158" x2="1314.8" y1="697.0" y2="697.0" stroke="#625f61" stroke-width="2"/>
<line x1="159" x2="159" y1="697.0" y2="706.0" stroke="#625f61" stroke-width="2"/>
<line x1="282.5" x2="282.5" y1="697.0" y2="706.0" stroke="#625f61" stroke-width="2"/>
<line x1="407.2" x2="407.2" y1="697.0" y2="706.0" stroke="#625f61" stroke-width="2"/>
<line x1="533.3" x2="533.3" y1="697.0" y2="706.0" stroke="#625f61" stroke-width="2"/>
<line x1="659.4" x2="659.4" y1="697.0" y2="706.0" stroke="#625f61" stroke-width="2"/>
<line x1="784.1" x2="784.1" y1="697.0" y2="706.0" stroke="#625f61" stroke-width="2"/>
<line x1="908.8" x2="908.8" y1="697.0" y2="706.0" stroke="#625f61" stroke-width="2"/>
<line x1="1034.9" x2="1034.9" y1="697.0" y2="706.0" stroke="#625f61" stroke-width="2"/>
<line x1="1160.9" x2="1160.9" y1="697.0" y2="706.0" stroke="#625f61" stroke-width="2"/>
<line x1="1284.7" x2="1284.7" y1="697.0" y2="706.0" stroke="#625f61" stroke-width="2"/>
<text x="143" y="704.6" text-anchor="end" font-size="24" fill="#6e6b6e">0</text>
<text x="143" y="618.6" text-anchor="end" font-size="24" fill="#6e6b6e">2M</text>
<text x="143" y="532.6" text-anchor="end" font-size="24" fill="#6e6b6e">4M</text>
<text x="143" y="446.6" text-anchor="end" font-size="24" fill="#6e6b6e">6M</text>
<text x="143" y="360.6" text-anchor="end" font-size="24" fill="#6e6b6e">8M</text>
<text x="143" y="274.6" text-anchor="end" font-size="24" fill="#6e6b6e">10M</text>
<text x="130.8" y="732.6" font-size="24" font-weight="bold" fill="#6e6b6e" textLength="56.4" lengthAdjust="spacingAndGlyphs">2023</text>
<text x="263.30" y="732.8" font-size="24" fill="#6e6b6e">4</text>
<text x="280.11" y="732.8" font-size="22" fill="#6e6b6e">月</text>
<text x="387.80" y="732.8" font-size="24" fill="#6e6b6e">7</text>
<text x="404.81" y="732.8" font-size="22" fill="#6e6b6e">月</text>
<text x="507.97" y="732.8" font-size="24" fill="#6e6b6e">1</text>
<text x="518.96" y="732.8" font-size="24" fill="#6e6b6e">0</text>
<text x="535.66" y="732.8" font-size="22" fill="#6e6b6e">月</text>
<text x="631.1999999999999" y="732.6" font-size="24" font-weight="bold" fill="#6e6b6e" textLength="56.4" lengthAdjust="spacingAndGlyphs">2024</text>
<text x="764.90" y="732.8" font-size="24" fill="#6e6b6e">4</text>
<text x="781.71" y="732.8" font-size="22" fill="#6e6b6e">月</text>
<text x="889.40" y="732.8" font-size="24" fill="#6e6b6e">7</text>
<text x="906.41" y="732.8" font-size="22" fill="#6e6b6e">月</text>
<text x="1009.57" y="732.8" font-size="24" fill="#6e6b6e">1</text>
<text x="1020.56" y="732.8" font-size="24" fill="#6e6b6e">0</text>
<text x="1037.26" y="732.8" font-size="22" fill="#6e6b6e">月</text>
<text x="1132.7" y="732.6" font-size="24" font-weight="bold" fill="#6e6b6e" textLength="56.4" lengthAdjust="spacingAndGlyphs">2025</text>
<text x="1265.50" y="732.8" font-size="24" fill="#6e6b6e">4</text>
<text x="1282.31" y="732.8" font-size="22" fill="#6e6b6e">月</text>
<g id="wm" fill="none" stroke="#eadedf" stroke-width="4" stroke-linejoin="miter"><path d="M591,450 H628.3 L625.6,462.5"/><path d="M593,450 L594.6,458 H618.5 L623.6,466.3 L610,483 L599.3,473.6"/><path d="M594.6,458 L596.6,468 H610"/></g><circle cx="610.7" cy="468" r="4.6" fill="#eadedf"/>
<text x="643" y="476.5" font-size="33" fill="#eadedf" stroke="#eadedf" stroke-width="0.5" textLength="149" lengthAdjust="spacingAndGlyphs">bitsCrunch</text>
<line x1="1024.5" x2="1074.5" y1="215" y2="215" stroke="#59be8b" stroke-width="3.6" stroke-linecap="butt"/>
<circle cx="1049.7" cy="215" r="10.95" fill="#fdfbfa" stroke="#59be8b" stroke-width="3.6"/>
<text x="1085" y="223.6" font-size="24" fill="#333" letter-spacing="0.35">Traders</text>
<rect x="1191.1" y="197" width="67.8" height="35.6" rx="17.8" fill="none" stroke="#2b2f6b" stroke-width="2"/>
<rect x="1275.3" y="197" width="67.5" height="35.6" rx="17.8" fill="none" stroke="#2b2f6b" stroke-width="2"/>
<text x="1200.7" y="222.8" font-size="24" fill="#2b2f6b">全选</text>
<text x="1285" y="222.8" font-size="24" fill="#2b2f6b">反选</text>
</svg>
</body></html>
